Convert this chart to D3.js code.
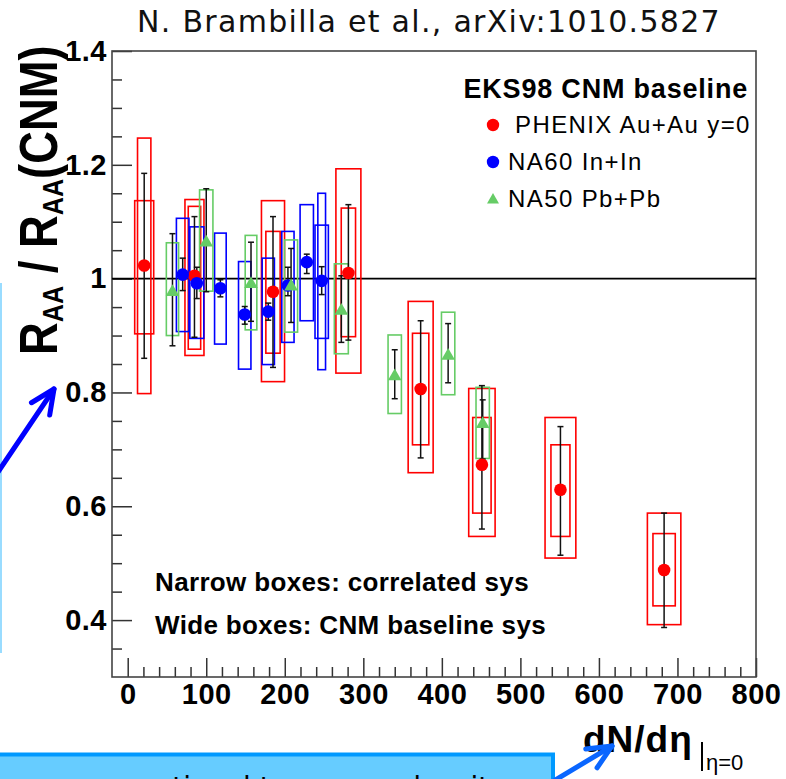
<!DOCTYPE html>
<html>
<head>
<meta charset="utf-8">
<script src="https://cdn.jsdelivr.net/npm/d3@7"></script>
<style>
  html, body { margin: 0; padding: 0; background: #fff; }
  svg { display: block; }
</style>
</head>
<body>
<script>
// ---------------- DATA ----------------
const xTickValues = [0, 100, 200, 300, 400, 500, 600, 700, 800];
const xTickLabels = ["0", "100", "200", "300", "400", "500", "600", "700", "800"];
const yTickValues = [0.4, 0.6, 0.8, 1.0, 1.2, 1.4];
const yTickLabels = ["0.4", "0.6", "0.8", "1", "1.2", "1.4"];

// PHENIX Au+Au y=0
const phenixX     = [21, 85, 185, 281, 373, 451, 551, 683];
const phenixY     = [1.023, 1.005, 0.977, 1.010, 0.806, 0.673, 0.629, 0.488];
const phenixErrLo = [0.860, 0.897, 0.844, 0.892, 0.685, 0.560, 0.514, 0.387];
const phenixErrHi = [1.185, 1.109, 1.109, 1.130, 0.926, 0.812, 0.740, 0.588];
// wide (CNM baseline) boxes
const phenixCnmLo = [0.798, 0.865, 0.819, 0.834, 0.659, 0.547, 0.509, 0.392];
const phenixCnmHi = [1.247, 1.139, 1.137, 1.193, 0.960, 0.807, 0.756, 0.588];
const phenixCnmHW = [8.5, 12.1, 14.7, 15.9, 15.9, 16.8, 19.6, 21.3];
// narrow (correlated) boxes
const phenixCorLo = [0.903, 0.876, 0.869, 0.898, 0.708, 0.588, 0.547, 0.425];
const phenixCorHi = [1.137, 1.127, 1.083, 1.124, 0.904, 0.756, 0.708, 0.552];
const phenixCorHW = [12.1, 7.9, 9.1, 9.1, 10.4, 11.7, 12.1, 14.2];

// NA60 In+In
const na60X     = [70, 88, 118, 149, 179, 204, 228, 247];
const na60Y     = [1.007, 0.992, 0.983, 0.937, 0.942, 0.988, 1.029, 0.996];
const na60ErrLo = [0.979, 0.965, 0.968, 0.920, 0.927, 0.970, 1.009, 0.972];
const na60ErrHi = [1.036, 1.020, 0.998, 0.951, 0.957, 1.020, 1.043, 1.021];
const na60BoxLo = [0.907, 0.895, 0.885, 0.841, 0.849, 0.888, 0.926, 0.895];
const na60BoxHi = [1.106, 1.091, 1.080, 1.030, 1.036, 1.083, 1.130, 1.094];
const na60BoxHW = [8.0, 8.9, 7.4, 7.9, 7.8, 7.8, 8.5, 8.5];
const na60Box2Lo = [null, null, null, null, null, null, null, 0.840];
const na60Box2Hi = [null, null, null, null, null, null, null, 1.150];
const na60Box2HW = [null, null, null, null, null, null, null, 4.9];

// NA50 Pb+Pb
const na50X     = [57, 100, 157, 208, 272, 340, 408, 452];
const na50Y     = [0.978, 1.065, 0.992, 0.988, 0.945, 0.830, 0.866, 0.746];
const na50ErrLo = [0.882, 0.977, 0.925, 0.923, 0.888, 0.789, 0.817, 0.683];
const na50ErrHi = [1.079, 1.158, 1.064, 1.053, 1.005, 0.875, 0.921, 0.787];
const na50BoxLo = [0.900, 0.978, 0.910, 0.906, 0.868, 0.763, 0.796, 0.684];
const na50BoxHi = [1.063, 1.156, 1.076, 1.068, 1.026, 0.901, 0.941, 0.809];
const na50BoxHW = [7.8, 8.5, 7.4, 8.3, 8.9, 8.5, 8.5, 8.5];

const legendLabels = ["PHENIX Au+Au y=0", "NA60 In+In", "NA50 Pb+Pb"];

// ---------------- LAYOUT ----------------
const W = 786, H = 779;
const RED = "#ff0000", BLUE = "#0000ff", GREEN = "#66cc66";
const svg = d3.select("body").append("svg").attr("width", W).attr("height", H);
svg.append("rect").attr("width", W).attr("height", H).attr("fill", "#fff");

const x = d3.scaleLinear().domain([-20, 800]).range([112, 756]);
const y = d3.scaleLinear().domain([0.3, 1.4]).range([677, 51]);

// Title
svg.append("text").attr("x", 429).attr("y", 32).attr("text-anchor", "middle")
  .attr("font-family", "DejaVu Sans").attr("font-size", 30).attr("letter-spacing", 1.3)
  .attr("fill", "#111").text("N. Brambilla et al., arXiv:1010.5827");

// Axes
const tickFont = g => g.selectAll("text").attr("font-family", "Liberation Sans")
  .attr("font-weight", "bold").attr("font-size", 29).attr("letter-spacing", 0.5).attr("fill", "#000");

const xMinor = d3.range(0, 801, 20).filter(v => v % 100 !== 0);
const yMinor = d3.range(0.35, 1.4, 0.05).map(v => +v.toFixed(2)).filter(v => Math.abs(v * 5 - Math.round(v * 5)) > 1e-6);

const gx = svg.append("g").attr("transform", `translate(0,${y(0.3)})`)
  .call(d3.axisBottom(x).tickValues(xTickValues).tickFormat((d, i) => xTickLabels[i])
    .tickSizeInner(-19).tickSizeOuter(0).tickPadding(6));
gx.call(tickFont);
const gxm = svg.append("g").attr("transform", `translate(0,${y(0.3)})`)
  .call(d3.axisBottom(x).tickValues(xMinor).tickFormat("").tickSizeInner(-10).tickSizeOuter(0));

const gy = svg.append("g").attr("transform", `translate(${x(-20)},0)`)
  .call(d3.axisLeft(y).tickValues(yTickValues).tickFormat((d, i) => yTickLabels[i])
    .tickSizeInner(-20).tickSizeOuter(0).tickPadding(5));
gy.call(tickFont);
const gym = svg.append("g").attr("transform", `translate(${x(-20)},0)`)
  .call(d3.axisLeft(y).tickValues(yMinor).tickFormat("").tickSizeInner(-10).tickSizeOuter(0));

[gx, gxm, gy, gym].forEach(g => {
  g.select(".domain").remove();
  g.selectAll("line").attr("stroke", "#333").attr("stroke-width", 1.5);
});

// Frame
svg.append("rect").attr("x", x(-20)).attr("y", y(1.4))
  .attr("width", x(800) - x(-20)).attr("height", y(0.3) - y(1.4))
  .attr("fill", "none").attr("stroke", "#444").attr("stroke-width", 1.6);

// Reference line at 1
svg.append("line").attr("x1", x(-20)).attr("x2", x(800)).attr("y1", y(1)).attr("y2", y(1))
  .attr("stroke", "#000").attr("stroke-width", 1.6);

// ---------------- MARKS ----------------
const plot = svg.append("g");

function boxes(xs, lo, hi, hw, color) {
  const idx = d3.range(xs.length).filter(i => lo[i] !== null);
  plot.append("g").selectAll("rect").data(idx).join("rect")
    .attr("x", i => x(xs[i] - hw[i])).attr("width", i => x(xs[i] + hw[i]) - x(xs[i] - hw[i]))
    .attr("y", i => y(hi[i])).attr("height", i => y(lo[i]) - y(hi[i]))
    .attr("fill", "none").attr("stroke", color).attr("stroke-width", 1.6);
}
function errors(xs, lo, hi) {
  const g = plot.append("g").attr("stroke", "#111").attr("stroke-width", 1.5);
  const idx = d3.range(xs.length);
  g.selectAll("line.v").data(idx).join("line").attr("class", "v")
    .attr("x1", i => x(xs[i])).attr("x2", i => x(xs[i])).attr("y1", i => y(lo[i])).attr("y2", i => y(hi[i]));
  g.selectAll("line.t").data(idx).join("line").attr("class", "t")
    .attr("x1", i => x(xs[i]) - 3).attr("x2", i => x(xs[i]) + 3).attr("y1", i => y(hi[i])).attr("y2", i => y(hi[i]));
  g.selectAll("line.b").data(idx).join("line").attr("class", "b")
    .attr("x1", i => x(xs[i]) - 3).attr("x2", i => x(xs[i]) + 3).attr("y1", i => y(lo[i])).attr("y2", i => y(lo[i]));
}
function circles(xs, ys, color) {
  plot.append("g").selectAll("circle").data(d3.range(xs.length)).join("circle")
    .attr("cx", i => x(xs[i])).attr("cy", i => y(ys[i])).attr("r", 6.3).attr("fill", color);
}
function triangles(xs, ys, color) {
  const sym = d3.symbol().type(d3.symbolTriangle).size(80);
  plot.append("g").selectAll("path").data(d3.range(xs.length)).join("path")
    .attr("transform", i => `translate(${x(xs[i])},${y(ys[i]) + 1})`).attr("d", sym).attr("fill", color);
}

boxes(phenixX, phenixCnmLo, phenixCnmHi, phenixCnmHW, RED);
boxes(phenixX, phenixCorLo, phenixCorHi, phenixCorHW, RED);
boxes(na60X, na60BoxLo, na60BoxHi, na60BoxHW, BLUE);
boxes(na60X, na60Box2Lo, na60Box2Hi, na60Box2HW, BLUE);
boxes(na50X, na50BoxLo, na50BoxHi, na50BoxHW, GREEN);
errors(phenixX, phenixErrLo, phenixErrHi);
errors(na60X, na60ErrLo, na60ErrHi);
errors(na50X, na50ErrLo, na50ErrHi);
circles(phenixX, phenixY, RED);
circles(na60X, na60Y, BLUE);
triangles(na50X, na50Y, GREEN);

// ---------------- LEGEND ----------------
svg.append("text").attr("x", 748).attr("y", 98).attr("text-anchor", "end")
  .attr("font-family", "Liberation Sans").attr("font-weight", "bold").attr("font-size", 27)
  .attr("letter-spacing", 0.8).attr("fill", "#000").text("EKS98 CNM baseline");
const legY = [125, 162, 199];
const legTextX = [515, 508, 508];
svg.append("circle").attr("cx", 493).attr("cy", legY[0]).attr("r", 6.2).attr("fill", RED);
svg.append("circle").attr("cx", 493).attr("cy", legY[1]).attr("r", 6.2).attr("fill", BLUE);
svg.append("path").attr("transform", `translate(493,${legY[2] + 1})`)
  .attr("d", d3.symbol().type(d3.symbolTriangle).size(62)).attr("fill", GREEN);
legendLabels.forEach((t, i) => {
  svg.append("text").attr("x", legTextX[i]).attr("y", legY[i] + 8)
    .attr("font-family", "Liberation Sans").attr("font-size", 24).attr("letter-spacing", 1.4)
    .attr("fill", "#000").text(t);
});

// Notes
[["Narrow boxes: correlated sys", 591], ["Wide boxes: CNM baseline sys", 634]].forEach(([t, yy]) => {
  svg.append("text").attr("x", 155).attr("y", yy)
    .attr("font-family", "Liberation Sans").attr("font-weight", "bold").attr("font-size", 26)
    .attr("letter-spacing", 0.35).attr("fill", "#000").text(t);
});

// ---------------- AXIS TITLES ----------------
const yt = svg.append("text").attr("transform", "translate(57,355) rotate(-90) scale(0.84,1)")
  .attr("font-family", "Liberation Sans").attr("font-weight", "bold").attr("font-size", 54).attr("fill", "#000");
yt.append("tspan").text("R");
yt.append("tspan").attr("font-size", 30).attr("dy", 6).text("AA");
yt.append("tspan").attr("dy", -6).text(" / R");
yt.append("tspan").attr("font-size", 30).attr("dy", 6).text("AA");
yt.append("tspan").attr("dy", -6).text("(CNM)");

const xt = svg.append("text").attr("x", 583).attr("y", 752)
  .attr("font-family", "Liberation Sans").attr("font-weight", "bold").attr("font-size", 37)
  .attr("letter-spacing", 1).attr("fill", "#000");
xt.append("tspan").text("dN/d");
xt.append("tspan").text("η");
svg.append("line").attr("x1", 702).attr("x2", 702).attr("y1", 742).attr("y2", 771)
  .attr("stroke", "#000").attr("stroke-width", 2);
svg.append("text").attr("x", 706).attr("y", 770)
  .attr("font-family", "Liberation Sans").attr("font-size", 22).attr("fill", "#000").text("η=0");

// ---------------- SLIDE OVERLAYS ----------------
svg.append("line").attr("x1", 1).attr("x2", 1).attr("y1", 283).attr("y2", 653)
  .attr("stroke", "#99dcff").attr("stroke-width", 2);
svg.append("rect").attr("x", -10).attr("y", 754.5).attr("width", 563).attr("height", 40)
  .attr("fill", "#66ccff").attr("stroke", "#0099ff").attr("stroke-width", 4);
svg.append("text").attr("x", 80).attr("y", 797)
  .attr("font-family", "DejaVu Sans").attr("font-size", 28).attr("fill", "#000")
  .text("proportional to energy density");

function arrow(x0, y0, x1, y1, color) {
  const dx = x1 - x0, dy = y1 - y0, L = Math.hypot(dx, dy);
  const ux = dx / L, uy = dy / L, px = -uy, py = ux;
  const back = 24, half = 11;
  const g = svg.append("g").attr("stroke", color).attr("stroke-width", 5)
    .attr("stroke-linecap", "round").attr("stroke-linejoin", "round").attr("fill", "none");
  g.append("line").attr("x1", x0).attr("y1", y0).attr("x2", x1).attr("y2", y1);
  g.append("path").attr("d", `M${x1 - ux * back + px * half},${y1 - uy * back + py * half} L${x1},${y1} L${x1 - ux * back - px * half},${y1 - uy * back - py * half}`);
}
arrow(-2, 472, 54, 389, "#0000ff");
arrow(552, 782, 612, 746, "#0a66ff");
</script>
</body>
</html>
